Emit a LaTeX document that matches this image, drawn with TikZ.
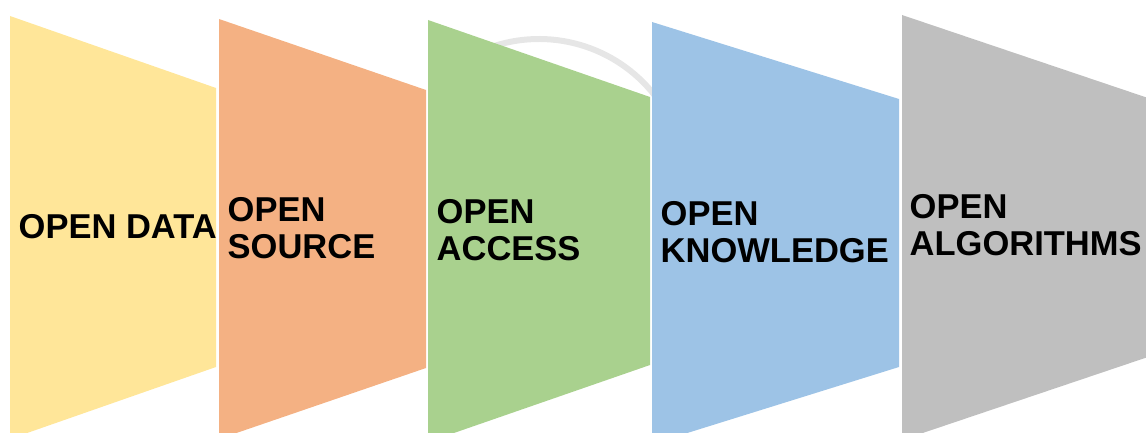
\documentclass[tikz,border=0pt]{standalone}
\usepackage{fontspec}
\setmainfont{Liberation Sans}
\usepackage{xcolor}
\usepackage{tikz}

\definecolor{dataYellow}{HTML}{FFE699}
\definecolor{sourceOrange}{HTML}{F4B183}
\definecolor{accessGreen}{HTML}{A9D18E}
\definecolor{knowBlue}{HTML}{9DC3E6}
\definecolor{algoGrey}{HTML}{BFBFBF}
\definecolor{arcGrey}{HTML}{E6E6E6}

\begin{document}
\begin{tikzpicture}[x=1pt,y=-1pt,
                      panel/.style={draw=none},
                      main node/.style={inner sep=0pt,anchor=base west,align=left,
                                        font=\bfseries\fontsize{34.5}{37}\selectfont}]

    \clip (0,0) rectangle (1146,433);

    % circular arrow, mostly hidden behind the panels
    \draw[arcGrey,line width=6pt] ([shift={(-110:147)}]539,186) arc[start angle=-110,end angle=-38,radius=147];

    \fill[panel,dataYellow]   (10,16)  -- (216,88)  -- (216,367)  -- (10,439)  -- cycle;
    \fill[panel,sourceOrange] (219,19) -- (426,90)  -- (426,368)  -- (219,439) -- cycle;
    \fill[panel,accessGreen]  (428,20) -- (650,97)  -- (650,365)  -- (428,442) -- cycle;
    \fill[panel,knowBlue]     (652,22) -- (899,99)  -- (899,367)  -- (652,444) -- cycle;
    \fill[panel,algoGrey]     (902,15) -- (1148,98) -- (1148,357) -- (902,440) -- cycle;

    % base = baseline of the last line
    \node[main node] (0) at (18.5,238)  {OPEN DATA};
    \node[main node] (1) at (227.5,258) {OPEN\\SOURCE};
    \node[main node] (2) at (436.5,260) {OPEN\\ACCESS};
    \node[main node] (3) at (660.5,262) {OPEN\\KNOWLEDGE};
    \node[main node] (4) at (909.5,255) {OPEN\\ALGORITHMS};

  \end{tikzpicture}
\end{document}
